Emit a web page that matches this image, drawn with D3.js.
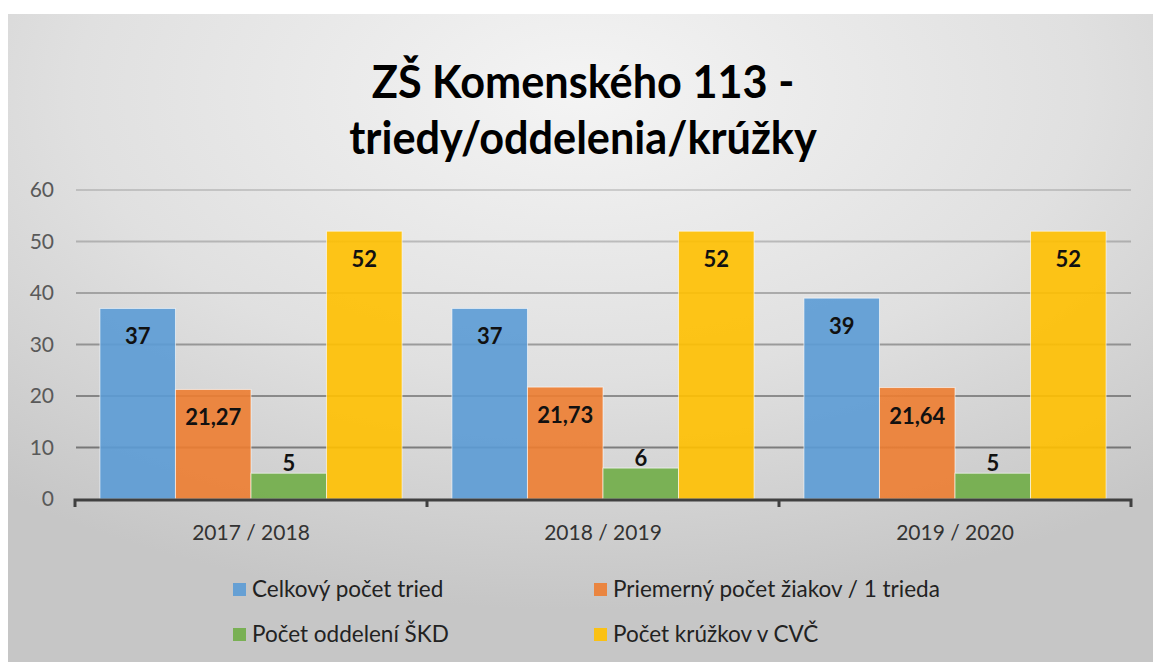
<!DOCTYPE html>
<html>
<head>
<meta charset="utf-8">
<script src="https://cdn.jsdelivr.net/npm/d3@7"></script>
<style>
  html, body { margin: 0; padding: 0; background: #fff; }
  svg { display: block; font-family: Lato, "Open Sans", sans-serif; }
</style>
</head>
<body>
<svg id="chart" width="1153" height="662"></svg>
<script>
const titleLines = ["ZŠ Komenského 113 -", "triedy/oddelenia/krúžky"];
const years = ["2017 / 2018", "2018 / 2019", "2019 / 2020"];
const seriesNames = ["Celkový počet tried", "Priemerný počet žiakov / 1 trieda", "Počet oddelení ŠKD", "Počet krúžkov v CVČ"];
const seriesColors = ["#5b9bd5", "#ed7d31", "#70ad47", "#ffc000"];
const celkovy = [37, 37, 39];
const priemerny = [21.27, 21.73, 21.64];
const oddelenia = [5, 6, 5];
const kruzky = [52, 52, 52];
const yTicks = [0, 10, 20, 30, 40, 50, 60];

const values = [celkovy, priemerny, oddelenia, kruzky];
const fmt = v => String(v).replace(".", ",");

const svg = d3.select("#chart");

// background panel with soft gradient
const defs = svg.append("defs");
const grad = defs.append("radialGradient")
    .attr("id", "bg")
    .attr("cx", "50%").attr("cy", "12%")
    .attr("r", "80%");
grad.append("stop").attr("offset", "0%").attr("stop-color", "#f4f4f4");
grad.append("stop").attr("offset", "55%").attr("stop-color", "#e0e0e0");
grad.append("stop").attr("offset", "100%").attr("stop-color", "#c6c6c6");

svg.append("rect")
    .attr("x", 8).attr("y", 14)
    .attr("width", 1145).attr("height", 648)
    .attr("fill", "url(#bg)");

// title (slightly condensed to mimic the narrower original face)
svg.append("g")
    .attr("transform", "translate(583,0) scale(0.94,1)")
    .selectAll("text")
    .data(titleLines)
    .enter()
    .append("text")
    .attr("x", 0)
    .attr("y", (d, i) => 98 + i * 56)
    .attr("text-anchor", "middle")
    .style("font-size", "46px")
    .style("font-weight", "bold")
    .style("fill", "#000")
    .text(d => d);

const y = d3.scaleLinear().domain([0, 60]).range([499, 190]);
const x = d3.scaleBand().domain(years).range([75, 1131]);
const xs = d3.scaleBand().domain(d3.range(4)).range([0, x.bandwidth()]).paddingOuter(0.33);

// gridlines
const gridAlpha = d3.scaleLinear().domain([10, 60]).range([0.42, 0.14]);
svg.append("g")
    .selectAll("line")
    .data(yTicks.filter(t => t > 0))
    .enter()
    .append("line")
    .attr("x1", 76).attr("x2", 1131)
    .attr("y1", d => y(d)).attr("y2", d => y(d))
    .attr("stroke", "#000")
    .attr("stroke-opacity", d => gridAlpha(d))
    .attr("stroke-width", 2);

// y axis labels
const yAxis = svg.append("g")
    .attr("transform", "translate(54,0)")
    .call(d3.axisLeft(y).tickValues(yTicks).tickSize(0).tickPadding(0));
yAxis.select(".domain").remove();
yAxis.selectAll("text")
    .style("font-family", "Lato, sans-serif")
    .style("font-size", "21px")
    .style("fill", "#595959");

// bars
const groups = svg.append("g")
    .selectAll("g")
    .data(years)
    .enter()
    .append("g")
    .attr("transform", d => `translate(${x(d)},0)`);

groups.selectAll("rect")
    .data((d, i) => values.map((s, k) => ({ k: k, v: s[i] })))
    .enter()
    .append("rect")
    .attr("x", d => xs(d.k))
    .attr("y", d => y(d.v))
    .attr("width", xs.bandwidth())
    .attr("height", d => y(0) - y(d.v))
    .attr("fill", d => seriesColors[d.k])
    .attr("fill-opacity", 0.9)
    .attr("stroke", "#fff")
    .attr("stroke-opacity", 0.6)
    .attr("stroke-width", 1);

groups.selectAll("text")
    .data((d, i) => values.map((s, k) => ({ k: k, v: s[i] })))
    .enter()
    .append("text")
    .attr("x", d => xs(d.k) + xs.bandwidth() / 2)
    .attr("y", d => d.k === 2 ? y(d.v) - 2 : y(d.v) + 36)
    .attr("text-anchor", "middle")
    .style("font-size", "22px")
    .style("font-weight", "bold")
    .style("fill", "#111")
    .text(d => fmt(d.v));

// x axis
const xAxis = svg.append("g")
    .attr("transform", "translate(0,500)")
    .call(d3.axisBottom(x).tickSize(0).tickPadding(25));
xAxis.select(".domain")
    .attr("d", "M75,7V0H1131V7")
    .attr("stroke", "#404040")
    .attr("stroke-width", 3)
    .attr("fill", "none");
xAxis.selectAll("text")
    .style("font-family", "Lato, sans-serif")
    .style("font-size", "21px")
    .style("fill", "#333");
xAxis.selectAll(".sep")
    .data(x.domain().slice(1))
    .enter()
    .append("line")
    .attr("class", "sep")
    .attr("x1", d => x(d)).attr("x2", d => x(d))
    .attr("y1", 0).attr("y2", 7)
    .attr("stroke", "#404040")
    .attr("stroke-width", 3);

// legend
const legendX = [233, 594];
const legendY = [588, 633];
const legend = svg.append("g")
    .selectAll("g")
    .data(seriesNames)
    .enter()
    .append("g")
    .attr("transform", (d, i) => `translate(${legendX[i % 2]},${legendY[Math.floor(i / 2)]})`);

legend.append("rect")
    .attr("x", 0).attr("y", -5)
    .attr("width", 13).attr("height", 13)
    .attr("fill", (d, i) => seriesColors[i])
    .attr("fill-opacity", 0.9);

legend.append("text")
    .attr("x", 19)
    .attr("y", 9)
    .style("font-size", "22.5px")
    .style("fill", "#222")
    .text(d => d);
</script>
</body>
</html>
